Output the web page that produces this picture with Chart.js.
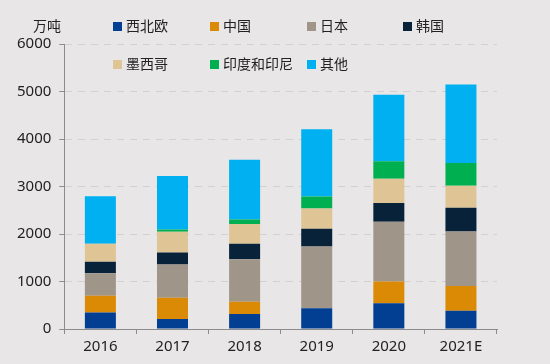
<!DOCTYPE html>
<html>
<head>
<meta charset="utf-8">
<script src="https://cdn.jsdelivr.net/npm/chart.js@4/dist/chart.umd.min.js"></script>
<style>
  html, body { margin: 0; padding: 0; background: #e8e6e7; }
  #wrap { position: relative; width: 550px; height: 364px; }
  #legend { position: absolute; left: 0; top: 0; width: 550px; height: 80px; pointer-events: none;
            font-family: "Noto Sans CJK SC", sans-serif; font-size: 14px; color: #222; }
  .item { position: absolute; white-space: nowrap; line-height: 18px; }
  .box { display: inline-block; width: 9px; height: 9px; margin-right: 4px; vertical-align: 0px; }
  #unit { position: absolute; left: 33px; top: 16px; font-family: "Noto Sans CJK SC", sans-serif;
          font-size: 14px; color: #222; line-height: 18px; }
</style>
</head>
<body>
<div id="wrap">
  <canvas id="chart" width="550" height="364"></canvas>
  <div id="unit">万吨</div>
  <div id="legend"></div>
</div>
<script>
// 年份
const years = ['2016', '2017', '2018', '2019', '2020', '2021E'];

// 各地区产量（万吨）
const xibeiou = [350, 210, 316, 436, 542, 386];
const zhongguo = [350, 450, 260, 0, 456, 521];
const riben = [472, 700, 894, 1300, 1259, 1146];
const hanguo = [245, 253, 323, 374, 395, 500];
const moxige = [380, 436, 415, 428, 513, 464];
const yindu = [0, 45, 98, 254, 365, 478];
const qita = [1000, 1125, 1259, 1413, 1400, 1653];

const seriesNames = ['西北欧', '中国', '日本', '韩国', '墨西哥', '印度和印尼', '其他'];
const seriesData = [xibeiou, zhongguo, riben, hanguo, moxige, yindu, qita];
const seriesColors = ['#023f92', '#da8a05', '#a09589', '#08223a', '#dfc596', '#00b050', '#00b0f0'];

const datasets = [];
for (let i = 0; i < seriesNames.length; i++) {
    datasets.push({
        label: seriesNames[i],
        data: seriesData[i],
        backgroundColor: seriesColors[i],
        borderWidth: 0,
        barPercentage: 0.43,
        categoryPercentage: 1
    });
}

// 图例：两行
const legendPos = [[113, 16], [210, 16], [307, 16], [403, 16], [113, 54], [210, 54], [307, 54]];
const legend = document.getElementById('legend');
for (let i = 0; i < seriesNames.length; i++) {
    const el = document.createElement('div');
    el.className = 'item';
    el.style.left = legendPos[i][0] + 'px';
    el.style.top = legendPos[i][1] + 'px';
    el.innerHTML = '<span class="box" style="background:' + seriesColors[i] + '"></span>' + seriesNames[i];
    legend.appendChild(el);
}

const tickFont = { family: '"Noto Sans", sans-serif', size: 15 };

new Chart(document.getElementById('chart'), {
    type: 'bar',
    data: { labels: years, datasets: datasets },
    options: {
        responsive: false,
        animation: false,
        layout: { padding: { left: 9, right: 53, top: 44, bottom: 4 } },
        plugins: { legend: { display: false }, tooltip: { enabled: false } },
        scales: {
            x: {
                stacked: true,
                grid: { drawOnChartArea: false, drawTicks: true, tickLength: 5, color: '#8c8c8c', offset: true },
                border: { color: '#8c8c8c', width: 1 },
                ticks: { color: '#222', font: tickFont, padding: 4 }
            },
            y: {
                stacked: true,
                min: 0,
                max: 6000,
                grid: { color: '#d2d0d1', tickLength: 5, tickColor: '#8c8c8c' },
                border: { color: '#8c8c8c', width: 1, dash: [7, 6] },
                ticks: { stepSize: 1000, color: '#222', font: tickFont, padding: 8,
                         callback: function (v) { return String(v); } }
            }
        }
    }
});
</script>
</body>
</html>
